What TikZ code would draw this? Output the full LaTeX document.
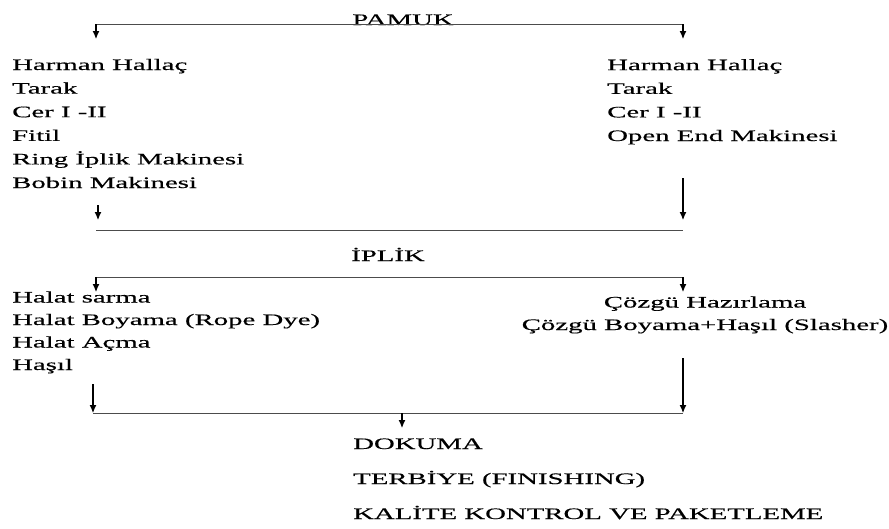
\documentclass[tikz,border=0pt]{standalone}
\usepackage{fontspec}
\setmainfont{Liberation Serif}[FakeStretch=1.8, FakeBold=0.4]
\usetikzlibrary{positioning, arrows.meta}

\begin{document}
\begin{tikzpicture}[x=1pt, y=-1pt, >={Latex[length=8pt, width=7pt]},
    metin/.style={inner sep=0pt, anchor=base west, align=left,
        font=\fontsize{16}{23.6}\selectfont},
    baslik/.style={inner sep=0pt, anchor=base, font=\fontsize{16}{23.6}\selectfont},
    cizgi/.style={line width=1pt, black!70},
    ok/.style={->, line width=1.1pt}]
    \useasboundingbox (0,0) rectangle (889,528);

    % 1. Pamuk ve ilk dağılım
    \node[baslik] (pamuk) at (403,25) {PAMUK};
    \coordinate (p1) at (96,24);
    \coordinate (p2) at (683,24);
    \draw[cizgi] (p1) -- (p2);
    \draw[ok] (p1) -- (96,39);
    \draw[ok] (p2) -- (683,39);

    % Ring ve Open End hatları (base = son satır)
    \node[metin] (ring) at (12,188) {Harman Hallaç\\Tarak\\Cer I -II\\Fitil\\Ring İplik Makinesi\\Bobin Makinesi};
    \node[metin] (openend) at (607,141) {Harman Hallaç\\Tarak\\Cer I -II\\Open End Makinesi};

    % 2. İpliğe birleşme
    \coordinate (i1) at (96,230);
    \coordinate (i2) at (683,230);
    \draw[ok] (98,205) -- (98,220);
    \draw[ok] (683,178) -- (683,220);
    \draw[cizgi] (i1) -- (i2);
    \node[baslik] (iplik) at (388,261) {İPLİK};

    % 3. Halat ve çözgü hatları
    \coordinate (h1) at (96,277);
    \coordinate (h2) at (683,277);
    \draw[cizgi] (h1) -- (h2);
    \draw[ok] (h1) -- (96,292);
    \draw[ok] (h2) -- (683,292);
    \node[metin, font=\fontsize{16}{22.5}\selectfont] (halat) at (12,370) {Halat sarma\\Halat Boyama (Rope Dye)\\Halat Açma\\Haşıl};
    \node[metin, anchor=base, align=center, font=\fontsize{16}{22.5}\selectfont] (cozgu) at (705,330) {Çözgü Hazırlama\\Çözgü Boyama+Haşıl (Slasher)};

    % 4. Dokuma ve sonrası
    \coordinate (d1) at (93,413);
    \coordinate (d2) at (683,413);
    \draw[ok] (93,384) -- (d1);
    \draw[ok] (683,358) -- (d2);
    \draw[cizgi] (d1) -- (d2);
    \draw[ok] (402,413) -- (402,428);
    \node[metin, font=\fontsize{16}{35}\selectfont] (dokuma) at (353,519) {DOKUMA\\TERBİYE (FINISHING)\\KALİTE KONTROL VE PAKETLEME};
\end{tikzpicture}
\end{document}
